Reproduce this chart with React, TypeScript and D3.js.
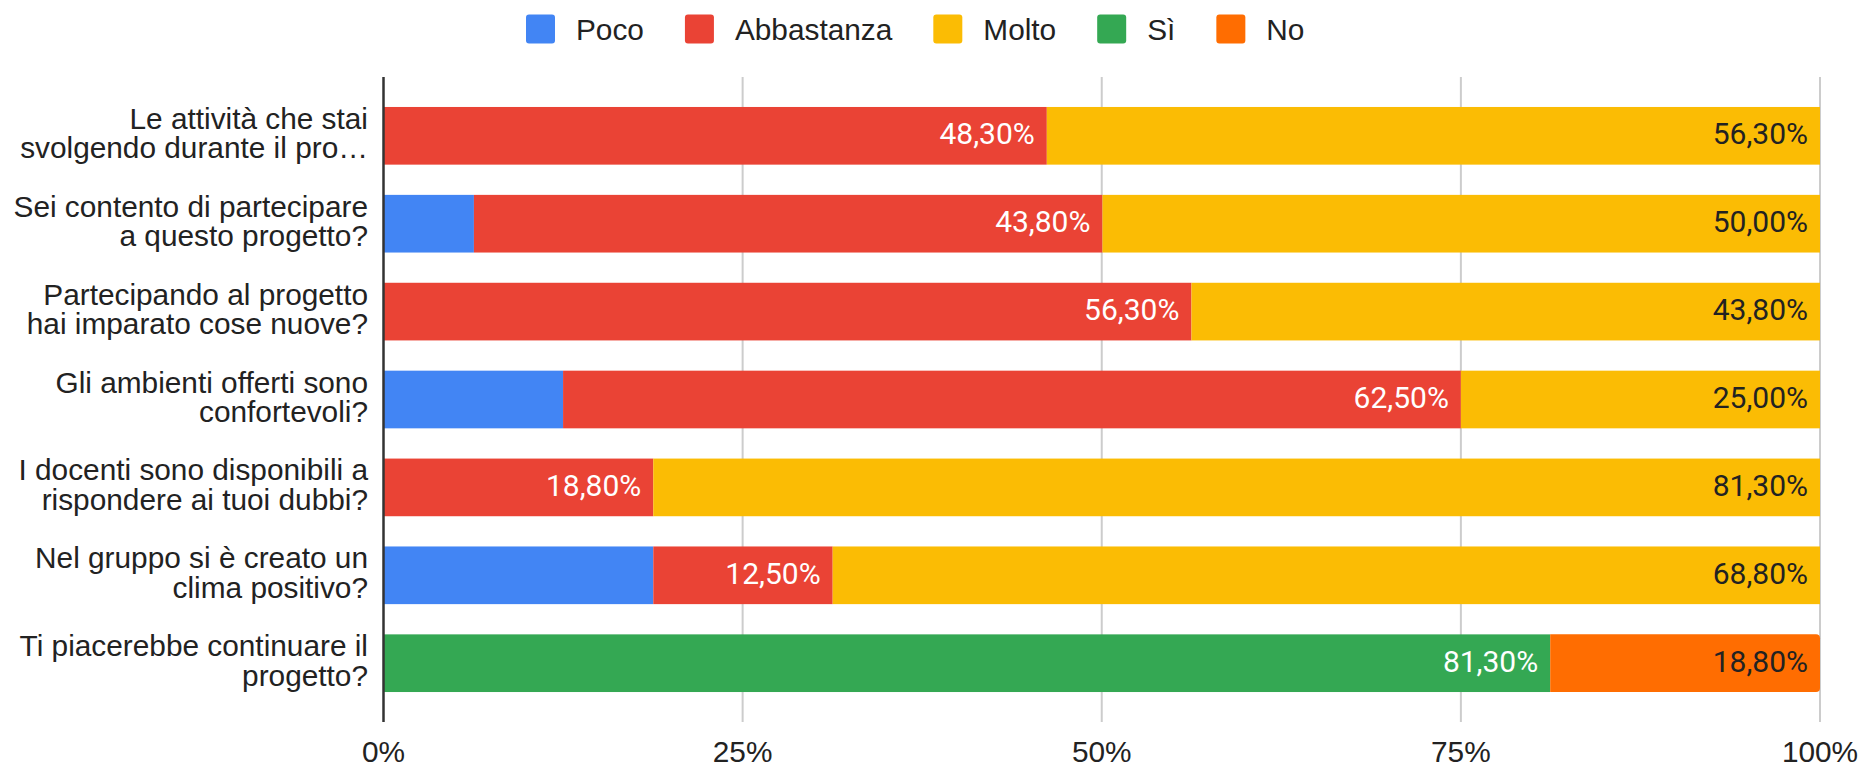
import React, { useEffect, useRef } from "react";
import * as d3 from "d3";

const categories: string[][] = [
  ["Le attività che stai", "svolgendo durante il pro…"],
  ["Sei contento di partecipare", "a questo progetto?"],
  ["Partecipando al progetto", "hai imparato cose nuove?"],
  ["Gli ambienti offerti sono", "confortevoli?"],
  ["I docenti sono disponibili a", "rispondere ai tuoi dubbi?"],
  ["Nel gruppo si è creato un", "clima positivo?"],
  ["Ti piacerebbe continuare il", "progetto?"],
];

const seriesNames = ["Poco", "Abbastanza", "Molto", "Sì", "No"];
const seriesColors = ["#4285F4", "#EA4335", "#FBBC04", "#34A853", "#FF6D01"];
const labelColors = ["#ffffff", "#ffffff", "#222222", "#ffffff", "#222222"];
const showLabel = [false, true, true, true, true];

const poco = [0, 6.3, 0, 12.5, 0, 18.8, 0];
const abbastanza = [48.3, 43.8, 56.3, 62.5, 18.8, 12.5, 0];
const molto = [56.3, 50.0, 43.8, 25.0, 81.3, 68.8, 0];
const si = [0, 0, 0, 0, 0, 0, 81.3];
const no = [0, 0, 0, 0, 0, 0, 18.8];

const xTicks = [0, 0.25, 0.5, 0.75, 1];
const xTickLabels = ["0%", "25%", "50%", "75%", "100%"];

const W = 1863;
const H = 765;
const FONT = "'Liberation Sans', Arial, sans-serif";
const FS = 29.8;

export default function App() {
  const ref = useRef<SVGSVGElement | null>(null);

  useEffect(() => {
    const svg = d3.select(ref.current);
    svg.selectAll("*").remove();

    const margin = { left: 383.5, right: W - 1820, top: 77, bottom: H - 722 };
    const x = d3.scaleLinear().domain([0, 1]).range([margin.left, W - margin.right]);
    const y = d3
      .scaleBand<number>()
      .domain(d3.range(categories.length))
      .range([margin.top, H - margin.bottom])
      .paddingInner(0.344)
      .paddingOuter(0.341);

    const rows = categories.map((_, i) => ({
      i,
      Poco: poco[i],
      Abbastanza: abbastanza[i],
      Molto: molto[i],
      "Sì": si[i],
      No: no[i],
    }));

    const stack = d3
      .stack<any>()
      .keys(seriesNames)
      .offset(d3.stackOffsetExpand);
    const stacked = stack(rows);

    // gridlines
    svg
      .append("g")
      .selectAll("line")
      .data(xTicks.slice(1))
      .join("line")
      .attr("x1", (d) => x(d))
      .attr("x2", (d) => x(d))
      .attr("y1", margin.top)
      .attr("y2", H - margin.bottom)
      .attr("stroke", "#cccccc")
      .attr("stroke-width", 2);

    const lastRow = categories.length - 1;

    // bars
    stacked.forEach((layer, si_) => {
      const g = svg.append("g").attr("fill", seriesColors[si_]);
      layer.forEach((seg, ri) => {
        const v = seg[1] - seg[0];
        if (v <= 0) return;
        const x0 = x(seg[0]);
        const x1 = x(seg[1]);
        const y0 = y(ri)!;
        const h = y.bandwidth();
        const isEnd = seg[1] > 0.9999 && ri === lastRow;
        if (isEnd) {
          const r = 4;
          const p = d3.path();
          p.moveTo(x0, y0);
          p.lineTo(x1 - r, y0);
          p.arcTo(x1, y0, x1, y0 + r, r);
          p.lineTo(x1, y0 + h - r);
          p.arcTo(x1, y0 + h, x1 - r, y0 + h, r);
          p.lineTo(x0, y0 + h);
          p.closePath();
          g.append("path").attr("d", p.toString());
        } else {
          g.append("rect")
            .attr("x", x0)
            .attr("y", y0)
            .attr("width", x1 - x0)
            .attr("height", h);
        }
      });
    });

    // data labels
    stacked.forEach((layer, si_) => {
      if (!showLabel[si_]) return;
      layer.forEach((seg, ri) => {
        const raw = (seg.data as any)[seriesNames[si_]] as number;
        if (!raw) return;
        svg
          .append("text")
          .attr("x", x(seg[1]) - 12)
          .attr("y", y(ri)! + y.bandwidth() / 2 + 8.5)
          .attr("text-anchor", "end")
          .attr("font-family", "Roboto, sans-serif")
          .attr("font-size", 30)
          .attr("fill", labelColors[si_])
          .text(raw.toFixed(2).replace(".", ",") + "%");
      });
    });

    // baseline axis
    svg
      .append("line")
      .attr("x1", x(0))
      .attr("x2", x(0))
      .attr("y1", margin.top)
      .attr("y2", H - margin.bottom)
      .attr("stroke", "#333333")
      .attr("stroke-width", 2.5);

    // x tick labels
    svg
      .append("g")
      .selectAll("text")
      .data(xTicks)
      .join("text")
      .attr("x", (d) => x(d))
      .attr("y", 762)
      .attr("text-anchor", "middle")
      .attr("font-family", FONT)
      .attr("font-size", FS)
      .attr("fill", "#222222")
      .text((_, i) => xTickLabels[i]);

    // y labels
    categories.forEach((lines, i) => {
      const cy = y(i)! + y.bandwidth() / 2;
      const t = svg
        .append("text")
        .attr("text-anchor", "end")
        .attr("font-family", FONT)
        .attr("font-size", FS)
        .attr("fill", "#222222");
      lines.forEach((ln, k) => {
        t.append("tspan")
          .attr("x", 368)
          .attr("y", cy - 7 + k * 29.4)
          .text(ln);
      });
    });

    // legend
    const lg = svg.append("g");
    let cx = 526;
    seriesNames.forEach((name, i) => {
      lg.append("rect")
        .attr("x", cx)
        .attr("y", 14.5)
        .attr("width", 29)
        .attr("height", 29)
        .attr("rx", 3)
        .attr("fill", seriesColors[i]);
      const tx = lg
        .append("text")
        .attr("x", cx + 50)
        .attr("y", 39.5)
        .attr("font-family", FONT)
        .attr("font-size", FS)
        .attr("fill", "#222222")
        .text(name);
      const w = (tx.node() as SVGTextElement).getComputedTextLength();
      cx = cx + 50 + w + 41;
    });
  }, []);

  return (
    <svg
      ref={ref}
      width={W}
      height={H}
      style={{ position: "absolute", left: 0, top: 0, background: "#fff" }}
    />
  );
}
